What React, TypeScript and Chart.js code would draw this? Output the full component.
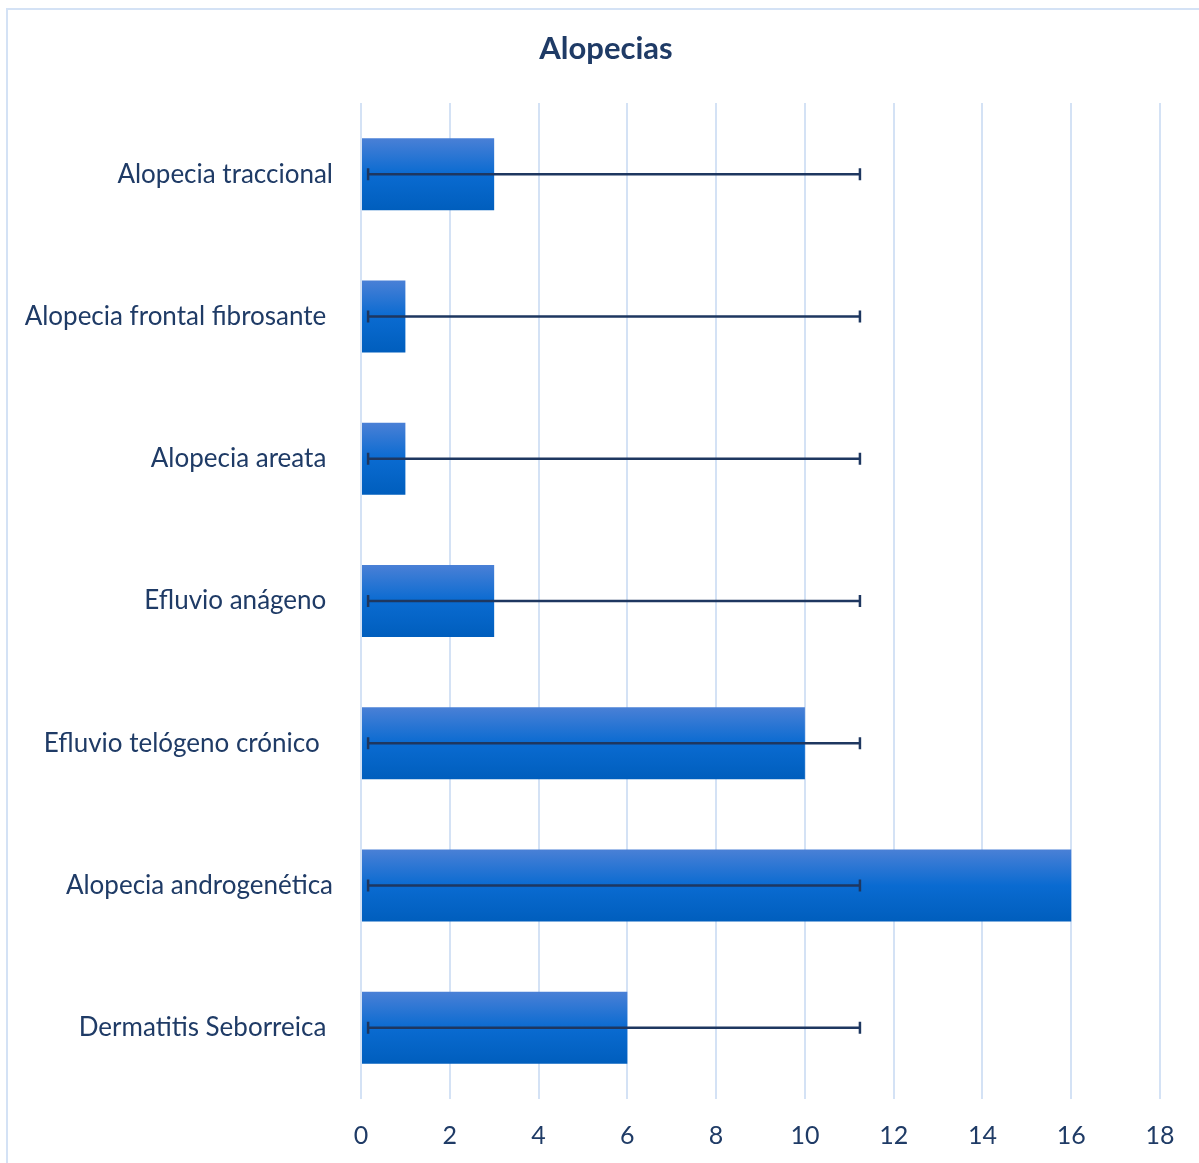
import React, { useEffect, useRef } from "react";
import { Chart, registerables } from "chart.js";

Chart.register(...registerables);

const categories = [
  "Alopecia traccional",
  "Alopecia frontal fibrosante ",
  "Alopecia areata ",
  "Efluvio anágeno ",
  "Efluvio telógeno crónico  ",
  "Alopecia androgenética",
  "Dermatitis Seborreica ",
];
const counts = [3, 1, 1, 3, 10, 16, 6];
const errorLow = [0.16, 0.16, 0.16, 0.16, 0.16, 0.16, 0.16];
const errorHigh = [11.24, 11.24, 11.24, 11.24, 11.24, 11.24, 11.24];
const xTicks = [0, 2, 4, 6, 8, 10, 12, 14, 16, 18];
const chartTitle = "Alopecias";

const TEXT = "#1f3b66";
const GRID = "#d4e2f5";
const BAR_PCT = 0.506;

// White background, the light frame round the chart, and the centred title
const framePlugin = {
  id: "frame",
  beforeDraw(chart: any) {
    const ctx = chart.ctx;
    ctx.save();
    ctx.fillStyle = "#ffffff";
    ctx.fillRect(0, 0, chart.width, chart.height);
    ctx.strokeStyle = GRID;
    ctx.lineWidth = 2;
    ctx.strokeRect(7, 9, chart.width + 50, chart.height + 50);
    ctx.fillStyle = TEXT;
    ctx.font = "bold 31px Lato";
    ctx.textAlign = "center";
    ctx.textBaseline = "alphabetic";
    ctx.fillText(chartTitle, 606, 59);
    ctx.restore();
  },
};

const errorBarPlugin = {
  id: "errorBars",
  afterDatasetsDraw(chart: any) {
    const ctx = chart.ctx;
    const xs = chart.scales.x;
    const ys = chart.scales.y;
    ctx.save();
    ctx.strokeStyle = "#1e3760";
    ctx.lineWidth = 2.5;
    categories.forEach((_, i) => {
      const y = ys.getPixelForValue(i);
      const x1 = xs.getPixelForValue(errorLow[i]);
      const x2 = xs.getPixelForValue(errorHigh[i]);
      ctx.beginPath();
      ctx.moveTo(x1, y);
      ctx.lineTo(x2, y);
      ctx.moveTo(x1, y - 6);
      ctx.lineTo(x1, y + 6);
      ctx.moveTo(x2, y - 6);
      ctx.lineTo(x2, y + 6);
      ctx.stroke();
    });
    ctx.restore();
  },
};

function barFill(c: any) {
  const chart = c.chart;
  const ys = chart.scales?.y;
  if (!chart.chartArea || !ys) return "#0a6ad0";
  const y = ys.getPixelForValue(c.dataIndex);
  const half = ((ys.height / categories.length) * BAR_PCT) / 2;
  const g = chart.ctx.createLinearGradient(0, y - half, 0, y + half);
  g.addColorStop(0, "#4a80d6");
  g.addColorStop(0.5, "#0a6bd1");
  g.addColorStop(1, "#005ebd");
  return g;
}

export default function App() {
  const ref = useRef<HTMLCanvasElement>(null);

  useEffect(() => {
    if (!ref.current) return;
    const chart = new Chart(ref.current, {
      type: "bar",
      data: {
        labels: categories,
        datasets: [
          {
            data: counts,
            backgroundColor: barFill,
            borderWidth: 0,
            categoryPercentage: 1,
            barPercentage: BAR_PCT,
          },
        ],
      },
      options: {
        indexAxis: "y",
        responsive: false,
        animation: false,
        layout: { padding: { left: 0, right: 39, top: 103, bottom: 0 } },
        plugins: {
          legend: { display: false },
          tooltip: { enabled: false },
          title: { display: false },
        },
        scales: {
          x: {
            min: 0,
            max: 18,
            afterFit(scale: any) {
              scale.height = 64;
            },
            afterBuildTicks(scale: any) {
              scale.ticks = xTicks.map((v) => ({ value: v }));
            },
            grid: { color: GRID, lineWidth: 2, drawTicks: false },
            border: { display: false },
            ticks: {
              color: TEXT,
              font: { family: "Lato", size: 25 },
              padding: 22,
              maxRotation: 0,
            },
          },
          y: {
            afterFit(scale: any) {
              scale.width = 361;
            },
            grid: { display: false, drawTicks: false },
            border: { display: false },
            ticks: {
              color: TEXT,
              font: { family: "Lato", size: 26 },
              padding: 28,
            },
          },
        },
      },
      plugins: [framePlugin, errorBarPlugin],
    });
    return () => chart.destroy();
  }, []);

  return (
    <div style={{ position: "absolute", left: 0, top: 0, width: 1199, height: 1163 }}>
      <canvas ref={ref} width={1199} height={1163} style={{ display: "block" }} />
    </div>
  );
}
